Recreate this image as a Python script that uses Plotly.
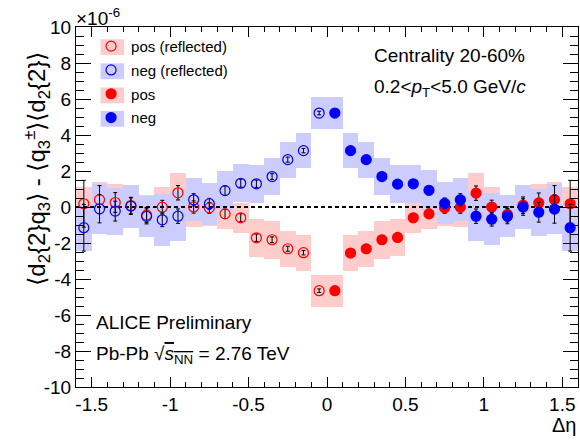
import plotly.graph_objects as go

# ---------------- data (values in units of 1e-6) ----------------
eta_pos = [0.05, 0.15, 0.25, 0.35, 0.45, 0.55, 0.65, 0.75,
           0.85, 0.95, 1.05, 1.15, 1.25, 1.35, 1.45, 1.55]
eta_refl = [-0.05, -0.15, -0.25, -0.35, -0.45, -0.55, -0.65, -0.75,
            -0.85, -0.95, -1.05, -1.15, -1.25, -1.35, -1.45, -1.55]

pos_vals = [-4.65, -2.56, -2.32, -1.82, -1.69, -0.60, -0.38, -0.05,
            -0.01, 0.77, 0.00, -0.41, 0.10, 0.23, 0.41, 0.18]
neg_vals = [5.22, 3.13, 2.63, 1.69, 1.27, 1.29, 0.93, 0.20,
            0.40, -0.51, -0.68, -0.51, 0.00, -0.29, -0.12, -1.15]

pos_refl_vals = [-4.65, -2.54, -2.32, -1.82, -1.71, -0.60, -0.38, -0.05,
                 0.00, 0.79, -0.01, -0.45, 0.08, 0.25, 0.41, 0.18]
neg_refl_vals = [5.22, 3.13, 2.63, 1.69, 1.29, 1.32, 0.91, 0.18,
                 0.40, -0.51, -0.71, -0.52, 0.05, -0.23, -0.10, -1.15]

pos_stat = [0.10, 0.12, 0.14, 0.16, 0.20, 0.22, 0.26, 0.30,
            0.34, 0.40, 0.38, 0.42, 0.46, 0.55, 0.78, 1.30]
neg_stat = [0.10, 0.12, 0.14, 0.16, 0.20, 0.22, 0.26, 0.30,
            0.34, 0.40, 0.38, 0.42, 0.46, 0.55, 0.78, 1.30]

pos_sys = [0.90, 1.00, 1.00, 1.05, 1.05, 0.85, 0.85, 1.00,
           1.10, 1.12, 1.10, 1.10, 1.00, 1.05, 1.00, 0.95]
neg_sys = [0.90, 0.97, 1.00, 1.05, 1.05, 1.05, 1.10, 1.17,
           1.20, 1.40, 1.45, 1.15, 1.20, 1.30, 1.38, 1.30]

bin_width = 0.1
x_range = [-1.6, 1.6]
y_range = [-10, 10]
x_tickvals = [-1.5, -1, -0.5, 0, 0.5, 1, 1.5]
x_ticktext = ["-1.5", "-1", "-0.5", "0", "0.5", "1", "1.5"]
y_tickvals = [-10, -8, -6, -4, -2, 0, 2, 4, 6, 8, 10]
y_ticktext = ["-10", "-8", "-6", "-4", "-2", "0", "2", "4", "6", "8", "10"]

RED = "#ff0000"
BLUE = "#0000ff"
RED_BOX = "#ffcccc"
BLUE_BOX = "#ccccff"
FONT = "Liberation Sans, Arial, Helvetica, sans-serif"

fig = go.Figure()


def sys_box(x, vals, sys, color):
    fig.add_trace(go.Bar(
        x=x, y=[2 * s for s in sys], base=[v - s for v, s in zip(vals, sys)],
        width=bin_width, marker=dict(color=color, line=dict(width=0)),
        showlegend=False, hoverinfo="skip"))


# systematic boxes: red first, blue on top
sys_box(eta_refl, pos_refl_vals, pos_sys, RED_BOX)
sys_box(eta_pos, pos_vals, pos_sys, RED_BOX)
sys_box(eta_refl, neg_refl_vals, neg_sys, BLUE_BOX)
sys_box(eta_pos, neg_vals, neg_sys, BLUE_BOX)

# dashed zero line (above boxes, below markers)
fig.add_trace(go.Scatter(
    x=x_range, y=[0, 0], mode="lines",
    line=dict(color="black", width=2, dash="4px,3px"),
    showlegend=False, hoverinfo="skip"))


def points(x, vals, stat, color, open_marker, name):
    fig.add_trace(go.Scatter(
        x=x, y=vals, mode="markers", name=name, legendgroup=name,
        marker=dict(size=10,
                    symbol="circle-open" if open_marker else "circle",
                    color=color, line=dict(width=1.2, color=color)),
        error_y=dict(type="data", array=stat, visible=True,
                     color="black", thickness=1, width=2),
        cliponaxis=False))


points(eta_refl, pos_refl_vals, pos_stat, RED, True, "pos (reflected)")
points(eta_refl, neg_refl_vals, neg_stat, BLUE, True, "neg (reflected)")
points(eta_pos, pos_vals, pos_stat, RED, False, "pos")
points(eta_pos, neg_vals, neg_stat, BLUE, False, "neg")

axis_common = dict(
    showline=True, linecolor="black", linewidth=1, mirror="ticks",
    ticks="inside", tickcolor="black", tickwidth=1,
    showgrid=False, zeroline=False, automargin=False,
    tickfont=dict(family=FONT, size=19, color="black"),
)

fig.update_xaxes(range=x_range, tickvals=x_tickvals, ticktext=x_ticktext,
                 ticklen=10,
                 minor=dict(dtick=0.1, ticklen=5, ticks="inside",
                            tickcolor="black", tickwidth=1, showgrid=False),
                 **axis_common)
fig.update_yaxes(range=y_range, tickvals=y_tickvals, ticktext=y_ticktext,
                 ticklen=15,
                 minor=dict(dtick=0.5, ticklen=8, ticks="inside",
                            tickcolor="black", tickwidth=1, showgrid=False),
                 **axis_common)

fig.update_layout(
    width=580, height=443,
    margin=dict(l=76, r=2, t=27, b=56, autoexpand=False),
    paper_bgcolor="white", plot_bgcolor="white",
    barmode="overlay", bargap=0,
    font=dict(family=FONT, color="black"),
    showlegend=True,
    legend=dict(x=0.03, y=0.992, xanchor="left", yanchor="top",
                bgcolor="rgba(0,0,0,0)", font=dict(size=15, family=FONT),
                tracegroupgap=1.3, traceorder="grouped", itemclick=False),
)

# shaded boxes behind the legend symbols (paper coords)
leg_rows = [0.944, 0.877, 0.810, 0.745]
leg_cols = [RED_BOX, BLUE_BOX, RED_BOX, BLUE_BOX]
for yc, col in zip(leg_rows, leg_cols):
    fig.add_shape(type="rect", xref="paper", yref="paper",
                  x0=0.049, x1=0.096, y0=yc - 0.022, y1=yc + 0.022,
                  fillcolor=col, line=dict(width=0), layer="above")

ann = [
    dict(text="×10<sup>-6</sup>", x=-0.003, y=1.0, xanchor="left", yanchor="bottom",
         yshift=-4, font=dict(size=19)),
    dict(text="Centrality 20-60%", x=0.59, y=0.92, xanchor="left", yanchor="middle",
         font=dict(size=19)),
    dict(text="0.2&lt;<i>p</i><sub>T</sub>&lt;5.0 GeV/<i>c</i>", x=0.59, y=0.83,
         xanchor="left", yanchor="middle", font=dict(size=19)),
    dict(text="ALICE Preliminary", x=0.036, y=0.18, xanchor="left", yanchor="middle",
         font=dict(size=19)),
    dict(text="Pb-Pb √<span style='text-decoration:overline'><i>s</i><sub>NN</sub></span> = 2.76 TeV",
         x=0.036, y=0.09, xanchor="left", yanchor="middle", font=dict(size=19)),
    dict(text="Δη", x=1.0, y=-0.105, xanchor="right", yanchor="middle",
         font=dict(size=20)),
    dict(text="⟨d<sub>2</sub>{2}q<sub>3</sub>⟩ - ⟨q<sub>3</sub><sup>±</sup>⟩⟨d<sub>2</sub>{2}⟩",
         x=-0.078, y=0.606, xanchor="center", yanchor="middle", textangle=-90,
         font=dict(size=24)),
]
for a in ann:
    fig.add_annotation(xref="paper", yref="paper", showarrow=False, **a)

# remove the default page margin so the figure sits at the window's top-left
fig.write_html(
    "out.html",
    config={"displayModeBar": False},
    post_script="document.body.style.margin='0';"
                "document.documentElement.style.overflow='hidden';",
)
